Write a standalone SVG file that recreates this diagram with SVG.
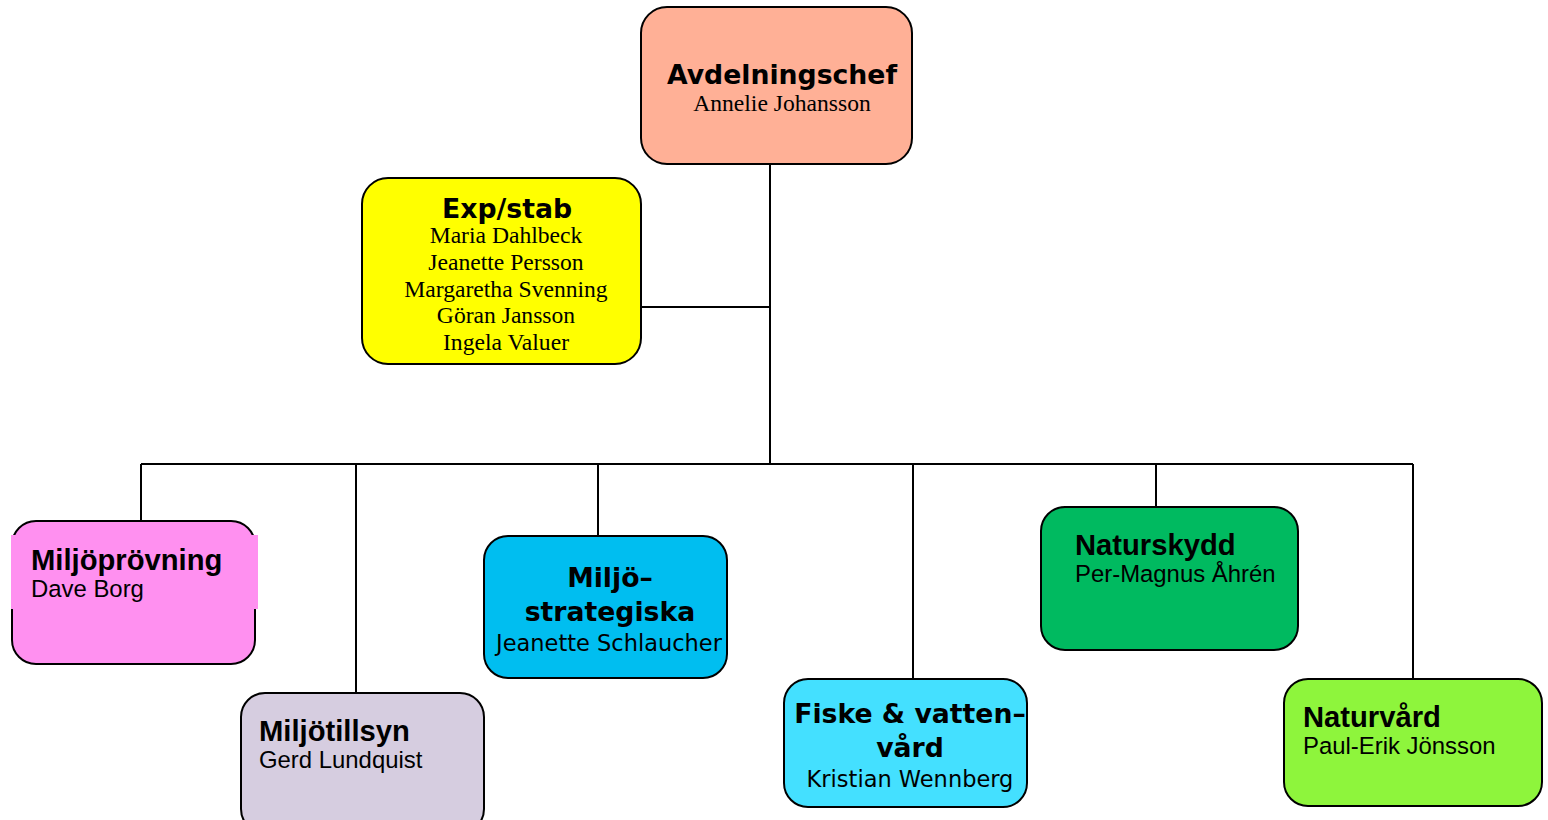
<svg xmlns="http://www.w3.org/2000/svg" width="1548" height="820" viewBox="0 0 1548 820">
<style>
.box{stroke:#000;stroke-width:2}
.line{stroke:#000;stroke-width:2;fill:none}
.lt{font-family:"DejaVu Sans",sans-serif;font-weight:bold;font-size:26.7px;fill:#000}
.ln{font-family:"DejaVu Sans",sans-serif;font-size:22.5px;fill:#000}
.tn{font-family:"Liberation Serif",serif;font-size:23.6px;fill:#000}
.at{font-family:"Liberation Sans",Arial,sans-serif;font-weight:bold;font-size:29.2px;fill:#000}
.an{font-family:"Liberation Sans",Arial,sans-serif;font-size:23.9px;fill:#000}
.c{text-anchor:middle}
</style>
<rect width="1548" height="820" fill="#fff"/>
<g id="connectors">
<path class="line" d="M770,164 V464"/>
<path class="line" d="M641,307 H770"/>
<path class="line" d="M141,464 H1413"/>
<path class="line" d="M141,464 V521"/>
<path class="line" d="M356,464 V693"/>
<path class="line" d="M598,464 V536"/>
<path class="line" d="M913,464 V679"/>
<path class="line" d="M1156,464 V507"/>
<path class="line" d="M1413,464 V679"/>
</g>
<g id="avdelningschef">
<rect class="box" x="641" y="7" width="271" height="157" rx="26" fill="#FFB096"/>
<text class="lt c" x="782" y="84">Avdelningschef</text>
<text class="tn c" x="782" y="111">Annelie Johansson</text>
</g>
<g id="expstab">
<rect class="box" x="362" y="178" width="279" height="186" rx="26" fill="#FFFF00"/>
<text class="lt c" x="507" y="218">Exp/stab</text>
<text class="tn c" x="506" y="243">Maria Dahlbeck</text>
<text class="tn c" x="506" y="270">Jeanette Persson</text>
<text class="tn c" x="506" y="297">Margaretha Svenning</text>
<text class="tn c" x="506" y="323">Göran Jansson</text>
<text class="tn c" x="506" y="350">Ingela Valuer</text>
</g>
<g id="miljoprovning">
<rect class="box" x="12" y="521" width="243" height="143" rx="24" fill="#FF90F0"/>
<rect x="11" y="535" width="247" height="74" fill="#FF90F0"/>
<text class="at" x="31" y="570">Miljöprövning</text>
<text class="an" x="31" y="597">Dave Borg</text>
</g>
<g id="miljotillsyn">
<rect class="box" x="241" y="693" width="243" height="140" rx="24" fill="#D6CDE0"/>
<text class="at" x="259" y="741">Miljötillsyn</text>
<text class="an" x="259" y="768">Gerd Lundquist</text>
</g>
<g id="miljostrategiska">
<rect class="box" x="484" y="536" width="243" height="142" rx="24" fill="#00BEF0"/>
<text class="lt c" x="610" y="587">Miljö–</text>
<text class="lt c" x="610" y="621">strategiska</text>
<text class="ln c" x="609" y="651">Jeanette Schlaucher</text>
</g>
<g id="fiske">
<rect class="box" x="784" y="679" width="243" height="128" rx="24" fill="#44E0FF"/>
<text class="lt c" x="910" y="723">Fiske &amp; vatten–</text>
<text class="lt c" x="910" y="757">vård</text>
<text class="ln c" x="910" y="787">Kristian Wennberg</text>
</g>
<g id="naturskydd">
<rect class="box" x="1041" y="507" width="257" height="143" rx="24" fill="#00BA60"/>
<text class="at" x="1075" y="555">Naturskydd</text>
<text class="an" x="1075" y="582">Per-Magnus Åhrén</text>
</g>
<g id="naturvard">
<rect class="box" x="1284" y="679" width="258" height="127" rx="24" fill="#8EF53C"/>
<text class="at" x="1303" y="727">Naturvård</text>
<text class="an" x="1303" y="754">Paul-Erik Jönsson</text>
</g>
</svg>
